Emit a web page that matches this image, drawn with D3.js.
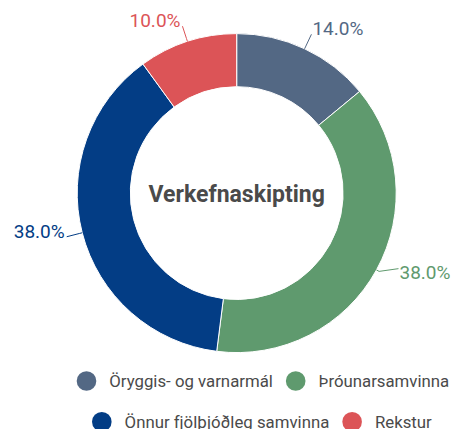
<!DOCTYPE html>
<html>
<head>
<meta charset="utf-8">
<script src="https://cdn.jsdelivr.net/npm/d3@7"></script>
<style>
  html, body { margin: 0; padding: 0; background: #fff; }
  svg { display: block; }
  text { font-family: Roboto, "Noto Sans", sans-serif; }
</style>
</head>
<body>
<svg id="chart" width="452" height="429"></svg>
<script>
// Shares of the budget by task area
const categories = ["Öryggis- og varnarmál", "Þróunarsamvinna", "Önnur fjölþjóðleg samvinna", "Rekstur"];
const shares = [14.0, 38.0, 38.0, 10.0];
const colors = ["#536884", "#5f9a6e", "#033d85", "#dc5457"];
const title = "Verkefnaskipting";

const width = 452, height = 429;
const cx = 236.7, cy = 193.1;
const outerR = 159.5, innerR = 106.4;
const labelDist = 16;

const svg = d3.select("#chart");
const data = categories.map((c, i) => ({ name: c, value: shares[i], color: colors[i] }));

const pie = d3.pie().sort(null).value(d => d.value);
const arcs = pie(data);
const arc = d3.arc().innerRadius(innerR).outerRadius(outerR);

const g = svg.append("g").attr("transform", `translate(${cx},${cy})`);

g.selectAll("path.slice")
  .data(arcs)
  .enter().append("path")
  .attr("class", "slice")
  .attr("d", arc)
  .attr("fill", d => d.data.color)
  .attr("stroke", "#fff")
  .attr("stroke-width", 1);

// polar helper: angle measured clockwise from 12 o'clock
const polar = (a, r) => [r * Math.sin(a), -r * Math.cos(a)];

// small per-label nudges so the right-hand label clears the edge
const nudge = { "Þróunarsamvinna": { tx: 8, lx: 8, ly: -9 } };

const fmt = d3.format(".1f");

arcs.forEach(d => {
  const mid = (d.startAngle + d.endAngle) / 2;
  const right = Math.sin(mid) >= 0;
  const n = nudge[d.data.name] || { tx: 0, lx: 0, ly: 0 };
  const p0 = polar(mid, outerR);
  const p1 = polar(mid, outerR + 3);
  const pa = polar(mid, outerR + labelDist);
  const end = [pa[0] + n.lx, pa[1] + n.ly];

  g.append("polyline")
    .attr("points", [p0, p1, end].map(p => p.join(",")).join(" "))
    .attr("fill", "none")
    .attr("stroke", d.data.color)
    .attr("stroke-width", 1);

  g.append("text")
    .attr("x", pa[0] + n.tx + (right ? 1 : -2))
    .attr("y", pa[1] + 1)
    .attr("text-anchor", right ? "start" : "end")
    .attr("fill", d.data.color)
    .attr("font-size", 19)
    .text(fmt(d.data.value) + "%");
});

g.append("text")
  .attr("x", 0)
  .attr("y", 8.5)
  .attr("text-anchor", "middle")
  .attr("fill", "#4a4a4a")
  .attr("font-size", 23)
  .attr("font-weight", "bold")
  .text(title);

// Legend: two rows of marker + name
const legendRows = [[0, 1], [2, 3]];
const legendY = [381, 421.7];
const legendStart = [76.7, 92];
const markerR = 9.8, markerGap = 13, itemGap = 13;

legendRows.forEach((row, ri) => {
  const lg = svg.append("g").attr("transform", `translate(${legendStart[ri]},${legendY[ri]})`);
  let x = 0;
  row.forEach(idx => {
    const item = lg.append("g").attr("transform", `translate(${x},0)`);
    item.append("circle")
      .attr("cx", markerR).attr("cy", 0).attr("r", markerR)
      .attr("fill", colors[idx]);
    const t = item.append("text")
      .attr("x", markerR * 2 + markerGap)
      .attr("y", 0)
      .attr("dy", "0.35em")
      .attr("fill", "#4a4a4a")
      .attr("font-size", 16.8)
      .text(categories[idx]);
    x += markerR * 2 + markerGap + t.node().getComputedTextLength() + itemGap;
  });
});
</script>
</body>
</html>
